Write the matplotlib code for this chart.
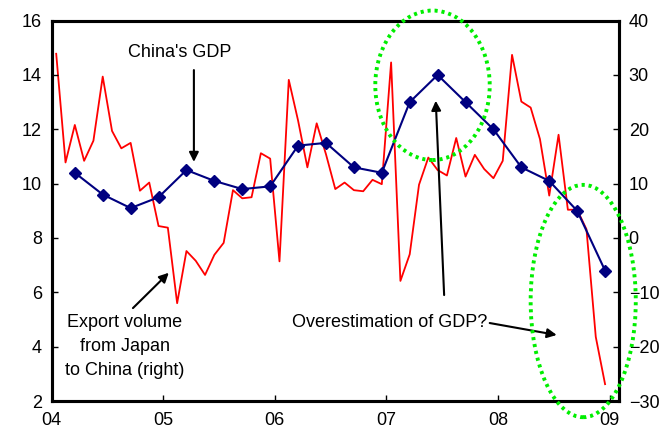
import matplotlib
matplotlib.use("Agg")
import matplotlib.pyplot as plt
from matplotlib.patches import Ellipse
import numpy as np

plt.rcParams['font.family'] = ['Liberation Sans', 'DejaVu Sans']

# Japan's export volume to China, y/y %, monthly Jan 2004 - Dec 2008 (right axis)
export_yoy = [33.9, 13.9, 20.8, 14.2, 17.9, 29.7, 19.7, 16.5, 17.5, 8.7, 10.2, 2.2,
              1.9, -12.0, -2.4, -4.2, -6.8, -3.1, -0.9, 8.8, 7.3, 7.5, 15.6, 14.6,
              -4.3, 29.1, 21.6, 13.0, 21.1, 15.4, 9.0, 10.2, 8.8, 8.6, 10.7, 9.9,
              32.3, -7.9, -3.0, 9.8, 14.8, 12.5, 11.5, 18.4, 11.3, 15.3, 12.7, 11.0,
              14.2, 33.7, 25.1, 24.0, 18.2, 7.8, 19.0, 5.2, 5.2, 1.6, -18.2, -26.9]

# China's real GDP growth, y/y %, quarterly 2004Q1 - 2008Q4 (left axis)
gdp_growth = [10.4, 9.6, 9.1, 9.5, 10.5, 10.1, 9.8, 9.9, 11.4, 11.5, 10.6, 10.4,
              13.0, 14.0, 13.0, 12.0, 10.6, 10.1, 9.0, 6.8]

year_labels = ['04', '05', '06', '07', '08', '09']

# months since Jan 2004, plotted at mid-month
month_x = np.arange(len(export_yoy)) + 0.5
quarter_x = np.arange(len(gdp_growth)) * 3 + 2.5

fig = plt.figure(figsize=(6.61, 4.34), dpi=100)
ax = fig.add_axes([0.078, 0.076, 0.8585, 0.8765])
ax2 = ax.twinx()

ax2.plot(month_x, export_yoy, color='#FF0000', lw=1.3)
ax.plot(quarter_x, gdp_growth, color='#000080', lw=1.5, marker='D',
        markersize=6.5, markerfacecolor='#000080', markeredgecolor='#000080')

# keep GDP line above the export line
ax.set_zorder(ax2.get_zorder() + 1)
ax.patch.set_visible(False)

ax.set_xlim(0, 61)
ax.set_ylim(2, 16)
ax2.set_ylim(-30, 40)
ax.set_xticks(np.arange(0, 61, 12))
ax.set_xticklabels(year_labels)
ax.set_yticks(np.arange(2, 17, 2))
ax2.set_yticks(np.arange(-30, 41, 10))

for a in (ax, ax2):
    for s in a.spines.values():
        s.set_linewidth(2.2)
    a.tick_params(direction='in', length=4, width=1, labelsize=13, pad=7)
ax.tick_params(axis='x', pad=8)

arrow = dict(arrowstyle='-|>', color='black', lw=1.5, mutation_scale=14,
             shrinkA=0, shrinkB=0)

# annotations
ax.text(13.8, 14.84, "China's GDP", ha='center', va='center', fontsize=13)
ax.annotate("", xy=(15.3, 10.8), xytext=(15.3, 14.18), arrowprops=arrow)
ax.text(7.9, 4.0, "Export volume\nfrom Japan\nto China (right)",
        ha='center', va='center', fontsize=13, linespacing=1.55)
ax.annotate("", xy=(12.6, 6.72), xytext=(8.75, 5.42), arrowprops=arrow)
ax.text(36.3, 4.9, "Overestimation of GDP?", ha='center', va='center', fontsize=13)
ax.annotate("", xy=(41.3, 13.05), xytext=(42.2, 5.9), arrowprops=arrow)
ax.annotate("", xy=(54.3, 4.43), xytext=(47.1, 4.87), arrowprops=arrow)

# dotted green rings around the 2007 peak and the 2008 slump
for cx, cy, w, h in [(40.95, 13.62, 12.3, 5.5), (57.15, 5.68, 11.3, 8.55)]:
    ax.add_patch(Ellipse((cx, cy), w, h, fill=False, edgecolor='#00EE00',
                         lw=2.8, linestyle=(0, (0.8, 1.0)), clip_on=False, zorder=5))

fig.savefig('out.png', dpi=100)
